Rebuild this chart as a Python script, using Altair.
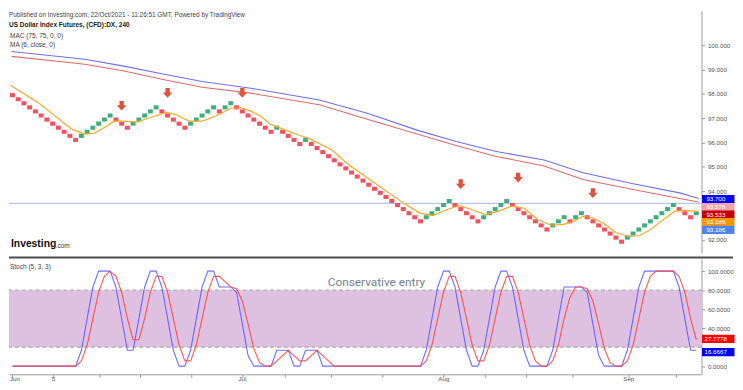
import altair as alt
import pandas as pd

# ---------------- data ----------------
# renko brick centre prices (brick size ~0.1673), in order
brick_mid = [
    97.948, 97.781, 97.614, 97.446, 97.279, 97.112, 96.944, 96.777, 96.610, 96.442, 96.275, 96.108,
    96.275, 96.442, 96.610, 96.777, 96.944, 97.112,
    96.944, 96.777, 96.610,
    96.777, 96.944, 97.112, 97.279, 97.446,
    97.279, 97.112, 96.944, 96.777, 96.610,
    96.777, 96.944, 97.112, 97.279, 97.446,
    97.279,
    97.446, 97.614,
    97.446, 97.279, 97.112, 96.944, 96.777, 96.610, 96.442,
    96.610,
    96.442, 96.275, 96.108, 95.940,
    96.108,
    95.940, 95.773, 95.606, 95.439, 95.271, 95.104, 94.937, 94.769, 94.602, 94.435,
    94.267, 94.100, 93.933, 93.766, 93.598, 93.431, 93.264, 93.096, 92.929, 92.762,
    92.929, 93.096, 93.264, 93.431, 93.598,
    93.431, 93.264, 93.096, 92.929, 92.762,
    92.929, 93.096, 93.264, 93.431, 93.598,
    93.431, 93.264, 93.096, 92.929, 92.762, 92.594, 92.427,
    92.594, 92.762, 92.929,
    92.762,
    92.929, 93.096,
    92.929, 92.762, 92.594, 92.427, 92.260, 92.093, 91.925,
    92.093, 92.260, 92.427, 92.594, 92.762, 92.929, 93.096, 93.264, 93.431,
    93.264, 93.096, 92.929,
    93.096,
]
BOX = 0.1673

# MA (6, close) line
ma_i = [0.66, 5.64, 11.3, 13.6, 15.3, 17.0, 18.7, 20.4, 22.6, 24.9, 27.75, 29.45, 31.7, 34.0,
        36.3, 39.1, 40.8, 42.5, 44.2, 45.9, 48.1, 51.0, 52.7, 56.6, 59.5, 65.1, 69.1, 71.9,
        74.2, 76.5, 78.8, 81.0, 83.3, 85.5, 87.9, 90.1, 92.3, 94.7, 96.9, 98.6, 100.3, 102.0,
        103.7, 106.0, 108.3, 110.0, 111.7, 113.9, 116.2, 117.9, 120.2]
ma_p = [98.35, 97.62, 96.55, 96.35, 96.39, 96.62, 96.88, 96.88, 96.84, 97.02, 97.24, 97.15,
        96.88, 96.88, 97.08, 97.42, 97.42, 97.29, 97.08, 96.75, 96.55, 96.29, 96.16, 95.69,
        95.09, 94.16, 93.50, 93.10, 93.00, 93.24, 93.41, 93.24, 93.04, 93.17, 93.39, 93.30,
        92.85, 92.60, 92.64, 92.77, 92.97, 92.90, 92.70, 92.30, 92.14, 92.17, 92.37, 92.77,
        93.17, 93.21, 93.17]

# MAC (75, 75, 0, 0) channel
mac_i = [0.85, 13.6, 20.4, 27.2, 34.0, 42.5, 54.4, 62.9, 71.4, 78.2, 85.0, 93.5, 100.3, 108.8, 117.3, 120.4]
mac_upper = [99.74, 99.42, 99.14, 98.82, 98.51, 98.23, 97.75, 97.19, 96.51, 96.04, 95.64, 95.28,
             94.76, 94.32, 93.92, 93.70]
mac_lower = [99.54, 99.22, 98.94, 98.59, 98.27, 98.03, 97.55, 96.95, 96.35, 95.88, 95.44, 95.04,
             94.48, 94.08, 93.69, 93.56]

# sell arrows
arrow_i = [20, 28, 41, 79, 89, 102]
arrow_p = [97.51, 98.04, 98.04, 94.29, 94.56, 93.92]

hline_price = 93.50

# Stochastic (5, 3, 3)
stoch_k = [0] * 12 + [
    16.67, 50, 83.33, 100, 100, 100,
    83.33, 50, 16.67, 16.67, 50, 83.33,
    100, 100, 83.33, 50, 16.67, 0,
    0, 16.67, 50, 83.33, 100, 100,
    83.33, 83.33, 83.33, 77.78, 44.44, 11.11,
    0, 0, 0, 0, 16.67, 16.67,
    16.67, 0, 0, 16.67, 16.67, 16.67] + [0] * 18 + [
    16.67, 50, 83.33, 100, 100, 83.33,
    50, 16.67, 0, 0, 16.67, 50,
    83.33, 100, 100, 83.33, 50, 16.67,
    0, 0, 0, 0, 16.67, 50,
    83.33, 83.33, 83.33, 83.33, 77.78, 44.44,
    11.11, 0, 0, 0, 0, 16.67,
    50, 83.33, 100, 100, 100, 100,
    100, 100, 83.33, 50, 16.67, 16.67]
stoch_d = [0] * 12 + [
    5.56, 22.22, 50, 77.78, 94.44, 100,
    94.44, 77.78, 50, 27.78, 27.78, 50,
    77.78, 94.44, 94.44, 77.78, 50, 22.22,
    5.56, 5.56, 22.22, 50, 77.78, 94.44,
    94.44, 88.89, 83.33, 81.48, 68.52, 44.44,
    18.52, 3.70, 0, 0, 5.56, 11.11,
    16.67, 11.11, 5.56, 5.56, 11.11, 16.67,
    11.11, 5.56, 0, 0, 0, 0] + [0] * 12 + [
    5.56, 22.22, 50, 77.78, 94.44, 94.44,
    77.78, 50, 22.22, 5.56, 5.56, 22.22,
    50, 77.78, 94.44, 94.44, 77.78, 50,
    22.22, 5.56, 0, 0, 5.56, 22.22,
    50, 72.22, 83.33, 83.33, 81.48, 68.52,
    44.44, 18.52, 3.70, 0, 0, 5.56,
    22.22, 50, 77.78, 94.44, 100, 100,
    100, 100, 94.44, 77.78, 50, 27.78]

# x axis (brick index) ticks and labels
tick_i = [0.85, 8.12, 16.17, 23.15, 32.16, 41.01, 48.33, 56.5, 65.35, 76.07, 83.22, 90.37, 98.37, 108.24, 116.41]
xlabel_text = ["5", "Jul", "Aug", "Sep"]
xlabel_i = [8.12, 41.01, 76.07, 108.24]

price_ticks = [92, 94, 95, 96, 97, 98, 99, 100]
stoch_ticks = [0, 40, 60, 80, 100]

price_tags = ["93.700", "93.578", "93.533", "93.186", "93.186"]
price_tag_pos = [93.673, 93.347, 93.036, 92.725, 92.410]
price_tag_color = ["#0000ff", "#f0a3aa", "#c40000", "#ff9800", "#4f83ee"]

stoch_tags = ["27.7778", "16.6667"]
stoch_tag_pos = [28.6, 14.8]
stoch_tag_color = ["#ff0000", "#0000ff"]

# ---------------- layout / style ----------------
W, H1, H2 = 703, 246, 117
XD = [0.4, 120.9]
PD = [91.454, 101.414]
SD = [-8.6, 112.7]
FONT = "Liberation Sans"
RED = "#f4505e"
GREEN = "#3fae7e"

xs = alt.Scale(domain=XD, nice=False, zero=False)
ps = alt.Scale(domain=PD, nice=False, zero=False)
ss = alt.Scale(domain=SD, nice=False, zero=False)

paxis = alt.Axis(orient="right", values=price_ticks, format=".3f", labelFontSize=6.3,
                 labelColor="#555555", labelFont=FONT, tickSize=3, tickColor="#9a9a9a",
                 domainColor="#9a9a9a", grid=False, title=None, labelPadding=3)
saxis = alt.Axis(orient="right", values=stoch_ticks, format=".4f", labelFontSize=6.3,
                 labelColor="#555555", labelFont=FONT, tickSize=3, tickColor="#9a9a9a",
                 domainColor="#9a9a9a", grid=False, title=None, labelPadding=3)
xaxis_b = alt.Axis(values=tick_i, labels=False, tickSize=3, tickColor="#9a9a9a",
                   domainColor="#9a9a9a", grid=False, title=None)


def xt(f):
    return alt.X(f, type="quantitative", scale=xs, axis=None)


def xb(f):
    return alt.X(f, type="quantitative", scale=xs, axis=xaxis_b)


def yp(f):
    return alt.Y(f, type="quantitative", scale=ps, axis=paxis)


def ysk(f):
    return alt.Y(f, type="quantitative", scale=ss, axis=saxis)


def text_layer(txt, x, y, size, color, weight="normal", font=FONT, align="left"):
    return alt.Chart(pd.DataFrame({"t": [txt]})).mark_text(
        align=align, baseline="middle", fontSize=size, color=color, fontWeight=weight, font=font
    ).encode(x=alt.value(x), y=alt.value(y), text="t:N")


TAG_SHAPE = "M0,-4.2L33,-4.2L33,4.2L0,4.2Z"
ARROW = "M-0.45,-1L0.45,-1L0.45,-0.1L1,-0.1L0,1L-1,-0.1L-0.45,-0.1Z"

# ---------------- top panel ----------------
bricks = pd.DataFrame({"i": list(range(1, len(brick_mid) + 1)), "mid": brick_mid})
dirs = ["down"]
for a, b in zip(brick_mid[:-1], brick_mid[1:]):
    dirs.append("up" if b > a else "down")
bricks["dir"] = dirs
bricks["lo"] = bricks["mid"] - BOX / 2
bricks["hi"] = bricks["mid"] + BOX / 2
bricks["x0"] = bricks["i"] - 0.43
bricks["x1"] = bricks["i"] + 0.43

hline = alt.Chart(pd.DataFrame({"p": [hline_price]})).mark_rule(
    color="#a3b8f5", strokeWidth=1).encode(y=yp("p"))

mac = pd.DataFrame({"i": mac_i, "up": mac_upper, "lo": mac_lower})
mac_up = alt.Chart(mac).mark_line(color="#6f6ff2", strokeWidth=1.1).encode(x=xt("i"), y=yp("up"))
mac_lo = alt.Chart(mac).mark_line(color="#e06d6d", strokeWidth=1.1).encode(x=xt("i"), y=yp("lo"))

brick_layer = alt.Chart(bricks).mark_rect(strokeWidth=0).encode(
    x=xt("x0"), x2="x1", y=yp("lo"), y2="hi",
    color=alt.Color("dir:N", scale=alt.Scale(domain=["up", "down"], range=[GREEN, RED]), legend=None),
)

ma_layer = alt.Chart(pd.DataFrame({"i": ma_i, "p": ma_p})).mark_line(
    color="#ffa726", strokeWidth=1.2).encode(x=xt("i"), y=yp("p"))

arrows = alt.Chart(pd.DataFrame({"i": arrow_i, "p": arrow_p})).mark_point(
    shape=ARROW, size=95, filled=True, color="#d9553b", opacity=1, strokeWidth=0
).encode(x=xt("i"), y=yp("p"))

ptags = pd.DataFrame({"t": price_tags, "p": price_tag_pos, "c": price_tag_color})
ptag_box = alt.Chart(ptags).mark_point(shape=TAG_SHAPE, size=4, filled=True, opacity=1, strokeWidth=0).encode(
    x=alt.value(W + 0.5), y=yp("p"), color=alt.Color("c:N", scale=None))
ptag_txt = alt.Chart(ptags).mark_text(align="left", baseline="middle", fontSize=6.3, font=FONT,
                                      color="white").encode(x=alt.value(W + 5), y=yp("p"), text="t:N")

top = alt.layer(
    hline, mac_up, mac_lo, brick_layer, ma_layer, arrows,
    text_layer("Published on Investing.com, 22/Oct/2021 - 11:26:51 GMT, Powered by TradingView",
               0, 4, 6.5, "#444444"),
    text_layer("US Dollar Index Futures, (CFD):DX, 240", 0, 14, 6.6, "#222222", weight="bold"),
    text_layer("MAC (75, 75, 0, 0)", 1, 26, 6.6, "#444444"),
    text_layer("MA (6, close, 0)", 1, 34.5, 6.6, "#444444"),
    text_layer("Investing", 2, 237, 10.5, "#111111", weight="bold"),
    text_layer(".com", 47.5, 238.5, 6.5, "#333333"),
    ptag_box, ptag_txt,
).properties(width=W, height=H1)

# ---------------- stochastic panel ----------------
band = alt.Chart(pd.DataFrame({"lo": [20], "hi": [80]})).mark_rect(color="#dec0e0").encode(
    x=alt.value(0), x2=alt.value(W), y=ysk("lo"), y2="hi")
dashes = alt.Chart(pd.DataFrame({"v": [20, 80]})).mark_rule(
    color="#a0a0a0", strokeDash=[4, 3], strokeWidth=1).encode(y=ysk("v"))

st = pd.DataFrame({"i": list(range(1, len(stoch_k) + 1)), "k": stoch_k, "d": stoch_d})
k_line = alt.Chart(st).mark_line(color="#5656ff", strokeWidth=1.1, opacity=0.85).encode(x=xb("i"), y=ysk("k"))
d_line = alt.Chart(st).mark_line(color="#ff4040", strokeWidth=1.1, opacity=0.85).encode(x=xb("i"), y=ysk("d"))

stags = pd.DataFrame({"t": stoch_tags, "p": stoch_tag_pos, "c": stoch_tag_color})
stag_box = alt.Chart(stags).mark_point(shape=TAG_SHAPE, size=4, filled=True, opacity=1, strokeWidth=0).encode(
    x=alt.value(W + 0.5), y=ysk("p"), color=alt.Color("c:N", scale=None))
stag_txt = alt.Chart(stags).mark_text(align="left", baseline="middle", fontSize=6.3, font=FONT,
                                      color="white").encode(x=alt.value(W + 3), y=ysk("p"), text="t:N")

separator = alt.Chart(pd.DataFrame({"a": [0]})).mark_rule(color="#4d4d4d", strokeWidth=2).encode(
    x=alt.value(0), x2=alt.value(W + 32), y=alt.value(-1.5))

xlabels = alt.Chart(pd.DataFrame({"i": xlabel_i, "t": xlabel_text})).mark_text(
    align="center", baseline="middle", fontSize=6.3, font=FONT, color="#555555"
).encode(x=xb("i"), y=alt.value(H2 + 5), text="t:N")

bottom = alt.layer(
    band, dashes, k_line, d_line,
    text_layer("Stoch (5, 3, 3)", 1, 8, 6.6, "#444444"),
    text_layer("Conservative entry", 373, 23, 12, "#72828f", font="Roboto", align="center"),
    stag_box, stag_txt, separator, xlabels,
    text_layer("Jun", 1, H2 + 5, 6.3, "#555555"),
).properties(width=W, height=H2)

chart = alt.vconcat(top, bottom, spacing=3).resolve_scale(y="independent").properties(
    padding={"left": 0, "top": 0, "right": 0, "bottom": 0}, background="white"
).configure_view(stroke=None)

chart.save("out.html", embed_options={"renderer": "svg", "actions": False})
